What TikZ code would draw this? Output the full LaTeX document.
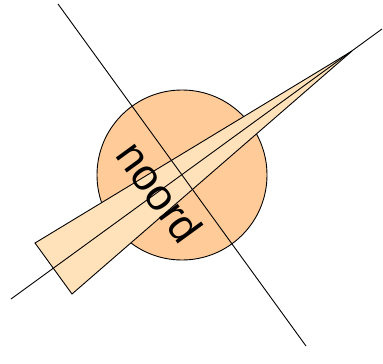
\documentclass[tikz,border=0pt]{standalone}
\usepackage{fontspec}
\setmainfont{Liberation Sans}
\definecolor{discfill}{RGB}{255,204,153}
\definecolor{needlefill}{RGB}{255,226,186}
\begin{document}
\begin{tikzpicture}[x=1pt,y=-1pt,line width=0.9pt,
 disc/.style={circle,draw,fill=discfill,minimum size=170pt,inner sep=0pt},
 needle/.style={draw,fill=needlefill,line join=miter},
 lbl/.style={font=\fontsize{44}{44}\selectfont,rotate=-54}]
\useasboundingbox (0,0) rectangle (383,364);
\node[disc] (disc) at (182,175) {};
\coordinate (a1) at (58,4); \coordinate (a2) at (306,346);
\coordinate (b1) at (11,299); \coordinate (b2) at (382,29);
\coordinate (tip) at (352,51);
\coordinate (w1) at (35,243); \coordinate (w2) at (72,294);
\draw[needle] (w1) -- (tip) -- (w2) -- cycle;
\draw (a1) -- (a2);
\draw (b1) -- (b2);
\node[lbl] (noord) at (160,192) {noord};
\end{tikzpicture}
\end{document}
